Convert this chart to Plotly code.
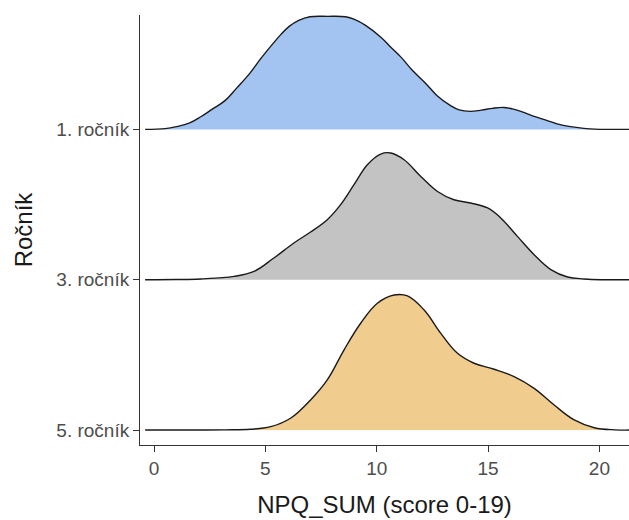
import plotly.graph_objects as go

# Categories (top to bottom) and their baseline positions on the y axis
categories = ["1. ročník", "3. ročník", "5. ročník"]
baselines = [2, 1, 0]
fill_colors = ["#A3C4F0", "#C3C3C3", "#F0CD8E"]

# Ridge profiles (x = NPQ_SUM score, h = scaled density height)
x_r1 = [-0.4, 0.5, 1.0, 1.6, 2.1, 2.6, 3.2, 3.7, 4.3, 4.8, 5.35, 5.7, 6.07, 6.5, 7.0, 7.8,
        8.6, 9.0, 9.5, 10.2, 10.6, 11.1, 11.6, 12.2, 12.7, 13.3, 13.7, 14.2, 14.7, 15.2,
        15.7, 16.1, 16.5, 17.0, 17.6, 18.1, 18.7, 19.3, 19.8, 21.5]
h_r1 = [0.0, 0.005, 0.018, 0.043, 0.084, 0.133, 0.193, 0.273, 0.373, 0.472, 0.572, 0.632,
        0.685, 0.725, 0.749, 0.752, 0.749, 0.732, 0.692, 0.612, 0.552, 0.479, 0.393, 0.306,
        0.226, 0.160, 0.130, 0.120, 0.128, 0.140, 0.146, 0.136, 0.118, 0.090, 0.062, 0.037,
        0.018, 0.007, 0.002, 0.0]

x_r3 = [-0.4, 1.0, 2.09, 3.59, 4.49, 5.38, 6.28, 7.03, 7.78, 8.38, 8.98, 9.58, 10.18, 10.63,
        11.23, 11.98, 12.73, 13.47, 14.22, 14.98, 15.57, 16.32, 17.07, 17.82, 18.57, 19.32,
        20.07, 21.5]
h_r3 = [0.0, 0.001, 0.005, 0.022, 0.055, 0.144, 0.244, 0.317, 0.399, 0.499, 0.632, 0.765,
        0.836, 0.843, 0.798, 0.687, 0.587, 0.532, 0.510, 0.477, 0.411, 0.288, 0.166, 0.067,
        0.018, 0.005, 0.0, 0.0]

x_r5 = [-0.4, 2.09, 3.2, 4.34, 5.24, 6.13, 7.03, 7.78, 8.53, 9.28, 10.03, 10.78, 11.38, 12.13,
        12.88, 13.63, 14.37, 15.27, 16.17, 17.07, 17.97, 18.87, 19.77, 20.7, 21.5]
h_r5 = [0.0, 0.0, 0.001, 0.005, 0.022, 0.078, 0.200, 0.333, 0.532, 0.710, 0.843, 0.898,
        0.892, 0.798, 0.643, 0.510, 0.444, 0.404, 0.355, 0.277, 0.166, 0.067, 0.015, 0.001,
        0.0]

x_ticks = [0, 5, 10, 15, 20]
x_title = "NPQ_SUM (score 0-19)"
y_title = "Ročník"

ridges = [(x_r1, h_r1), (x_r3, h_r3), (x_r5, h_r5)]

fig = go.Figure()
for (xs, hs), base, col in zip(ridges, baselines, fill_colors):
    fig.add_trace(go.Scatter(x=xs, y=[base] * len(xs), mode="lines",
                             line=dict(width=0, color=col), hoverinfo="skip",
                             showlegend=False))
    fig.add_trace(go.Scatter(x=xs, y=[base + h for h in hs], mode="lines",
                             fill="tonexty", fillcolor=col,
                             line=dict(color="#1a1a1a", width=1.4, shape="spline",
                                       smoothing=1.1),
                             showlegend=False))

fig.update_layout(
    width=629, height=520,
    margin=dict(l=140, r=0, t=15, b=75),
    paper_bgcolor="white", plot_bgcolor="white",
    font=dict(family="Liberation Sans, Arial, sans-serif"),
    showlegend=False,
)
fig.update_xaxes(
    range=[-0.63, 21.33], tickvals=x_ticks, ticktext=[str(t) for t in x_ticks],
    showgrid=False, zeroline=False, showline=True, linecolor="#333333", linewidth=1,
    ticks="outside", ticklen=6, tickcolor="#333333", tickwidth=1,
    tickfont=dict(size=19, color="#4d4d4d"), automargin=False,
    title=dict(text=x_title, font=dict(size=24, color="#1a1a1a"), standoff=18),
)
fig.update_yaxes(
    range=[-0.0998, 2.761], tickvals=baselines, ticktext=categories,
    showgrid=False, zeroline=False, showline=True, linecolor="#333333", linewidth=1,
    ticks="outside", ticklen=6, tickcolor="#333333", tickwidth=1,
    tickfont=dict(size=19, color="#4d4d4d"), automargin=False,
    title=dict(text=y_title, font=dict(size=24, color="#1a1a1a"), standoff=16),
)

fig.write_html(
    "out.html",
    config={"displayModeBar": False},
    post_script="document.body.style.margin='0';document.body.style.padding='0';"
                "document.body.style.overflow='hidden';",
)
